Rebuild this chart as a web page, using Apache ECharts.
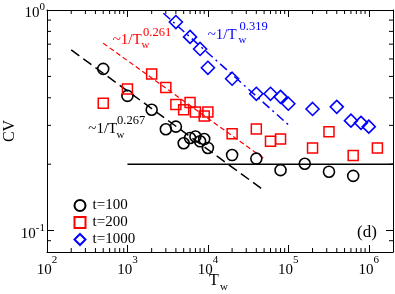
<!DOCTYPE html>
<html><head><meta charset="utf-8">
<script src="https://cdn.jsdelivr.net/npm/echarts@6/dist/echarts.min.js"></script>
<style>html,body{margin:0;padding:0;background:#fff}#c{width:395px;height:294px}</style>
</head><body><div id="c"></div>
<script>
// ---- data ----
const TW_100 = [500,1000,2000,3000,4000,5000,6000,7000,8000,9000,10000,20000,40000,80000,160000,320000,640000];
const CV_100 = [0.541,0.408,0.353,0.288,0.296,0.249,0.263,0.267,0.254,0.260,0.237,0.220,0.212,0.188,0.201,0.185,0.177];
const TW_200 = [500,1000,2000,3000,4000,5000,6000,7000,9000,10000,20000,40000,60000,80000,200000,320000,640000,1280000];
const CV_200 = [0.378,0.438,0.513,0.445,0.373,0.353,0.381,0.345,0.331,0.345,0.275,0.289,0.254,0.260,0.237,0.281,0.219,0.237];
const TW_1000 = [4000,6000,8000,10000,20000,40000,60000,80000,100000,200000,400000,600000,800000,1000000];
const CV_1000 = [0.882,0.755,0.666,0.547,0.488,0.417,0.417,0.404,0.376,0.356,0.364,0.315,0.308,0.296];
const FIT_267 = [[200,0.659],[50000,0.152]];
const FIT_261 = [[500,0.707],[50000,0.212]];
const FIT_319 = [[2800,0.966],[100000,0.302]];
const PLATEAU = [[1000,0.2],[2000000,0.2]];
const LEGEND_NAMES = ['t=100','t=200','t=1000'];
const X_MIN = 100, X_MAX = 2000000, Y_MIN = 0.08, Y_MAX = 1;
const X_MINOR = [];
[1e2,1e3,1e4,1e5,1e6].forEach(d => { for (let m = 2; m <= 9; m++) if (m*d < X_MAX) X_MINOR.push(m*d); });
const Y_MINOR = [0.09,0.2,0.3,0.4,0.5,0.6,0.7,0.8,0.9];

const FF = '"Liberation Serif","Times New Roman",serif';
const zip = (a,b) => a.map((v,i) => [v,b[i]]);
const sci = v => '{b|10}{s|' + Math.round(Math.log10(v)) + '}';
const richX = { b:{fontFamily:FF,fontSize:15,lineHeight:30,color:'#000'}, s:{fontFamily:FF,fontSize:11,lineHeight:11,verticalAlign:'top',color:'#000'} };
const richY = { b:{fontFamily:FF,fontSize:15,lineHeight:24,color:'#000'}, s:{fontFamily:FF,fontSize:11,lineHeight:11,verticalAlign:'top',color:'#000'} };
const axLine = {show:true,onZero:false,lineStyle:{color:'#000',width:1}};
const tick = {show:true,inside:true,length:7,lineStyle:{color:'#000',width:1}};

const chart = echarts.init(document.getElementById('c'), null, {renderer:'canvas'});
const txt = (x,y,text,size,color,extra) => Object.assign({type:'text', silent:true, style:{x:x,y:y,text:text,fontFamily:FF,fontSize:size,fill:color,align:'left',verticalAlign:'middle'}}, extra||{});

chart.setOption({
  animation:false,
  grid:{left:47,right:2,top:10,bottom:42,containLabel:false,outerBoundsMode:'none'},
  xAxis:[
    {type:'log',logBase:10,min:X_MIN,max:X_MAX,position:'bottom',axisLine:axLine,axisTick:tick,splitLine:{show:false},
     axisLabel:{showMaxLabel:false,showMinLabel:true,margin:3,formatter:sci,rich:richX}},
    {type:'log',logBase:10,min:X_MIN,max:X_MAX,position:'top',axisLine:axLine,axisTick:tick,splitLine:{show:false},axisLabel:{show:false}}
  ],
  yAxis:[
    {type:'log',logBase:10,min:Y_MIN,max:Y_MAX,position:'left',axisLine:axLine,axisTick:tick,splitLine:{show:false},
     axisLabel:{showMinLabel:false,showMaxLabel:true,margin:2,padding:[7,0,0,0],formatter:sci,rich:richY}},
    {type:'log',logBase:10,min:Y_MIN,max:Y_MAX,position:'right',axisLine:axLine,axisTick:tick,splitLine:{show:false},axisLabel:{show:false}}
  ],
  legend:{
    data:LEGEND_NAMES, orient:'vertical', left:68.5, top:193, itemWidth:11, itemHeight:11, itemGap:2,
    selectedMode:false, textStyle:{fontFamily:FF,fontSize:15,lineHeight:14,color:'#000',padding:[0,0,0,2]}
  },
  graphic:[
    {type:'text',silent:true,rotation:Math.PI/2,x:10,y:131,style:{x:0,y:0,text:'CV',fontFamily:FF,fontSize:16,fill:'#000',align:'center',verticalAlign:'middle'}},
    txt(209,281,'T',16,'#000'),
    txt(220,287,'w',11,'#000'),
    txt(357,233,'(d)',17,'#000'),
    txt(88.3,129,'~1/T',15,'#000'), txt(117,120.5,'0.267',12.5,'#000'), txt(116.5,135,'w',11,'#000'),
    txt(112.7,40,'~1/T',15,'#f00'), txt(143,32.3,'0.261',12.5,'#f00'), txt(141.5,45.5,'w',11,'#f00'),
    txt(207.7,35,'~1/T',15,'#00f'), txt(239.5,27,'0.319',12.5,'#00f'), txt(238.5,40.5,'w',11,'#00f')
  ],
  series:[
    {type:'custom',silent:true,z:1,encode:{x:0,y:1},data:X_MINOR.map(v=>[v,Y_MIN]),
     renderItem:(p,api)=>{const v=api.value(0);const b=api.coord([v,Y_MIN]);const t=api.coord([v,Y_MAX]);
       return {type:'group',children:[
         {type:'line',shape:{x1:b[0],y1:b[1],x2:b[0],y2:b[1]-4},style:{stroke:'#000',lineWidth:1}},
         {type:'line',shape:{x1:t[0],y1:t[1],x2:t[0],y2:t[1]+4},style:{stroke:'#000',lineWidth:1}}]};}},
    {type:'custom',silent:true,z:1,encode:{x:0,y:1},data:Y_MINOR.map(v=>[X_MIN,v]),
     renderItem:(p,api)=>{const v=api.value(1);const l=api.coord([X_MIN,v]);const r=api.coord([X_MAX,v]);
       return {type:'group',children:[
         {type:'line',shape:{x1:l[0],y1:l[1],x2:l[0]+4,y2:l[1]},style:{stroke:'#000',lineWidth:1}},
         {type:'line',shape:{x1:r[0],y1:r[1],x2:r[0]-4,y2:r[1]},style:{stroke:'#000',lineWidth:1}}]};}},
    {type:'line',data:PLATEAU,symbol:'none',silent:true,lineStyle:{color:'#000',width:1.6},z:2},
    {type:'line',data:FIT_267,symbol:'none',silent:true,lineStyle:{color:'#000',width:1.5,type:[10,5]},z:2},
    {type:'line',data:FIT_261,symbol:'none',silent:true,lineStyle:{color:'#f00',width:1.2,type:[5,3]},z:2},
    {type:'line',data:FIT_319,symbol:'none',silent:true,lineStyle:{color:'#00f',width:1.5,type:[9,4,2,4]},z:2},
    {name:LEGEND_NAMES[0],type:'scatter',data:zip(TW_100,CV_100),symbol:'circle',symbolSize:11,z:3,
     itemStyle:{color:'rgba(0,0,0,0)',borderColor:'#000',borderWidth:1.6,opacity:1}},
    {name:LEGEND_NAMES[1],type:'scatter',data:zip(TW_200,CV_200),symbol:'rect',symbolSize:10,z:3,
     itemStyle:{color:'rgba(0,0,0,0)',borderColor:'#f00',borderWidth:1.5,opacity:1}},
    {name:LEGEND_NAMES[2],type:'scatter',data:zip(TW_1000,CV_1000),symbol:'diamond',symbolSize:13,z:3,
     itemStyle:{color:'rgba(0,0,0,0)',borderColor:'#00f',borderWidth:1.6,opacity:1}}
  ]
});
</script></body></html>
